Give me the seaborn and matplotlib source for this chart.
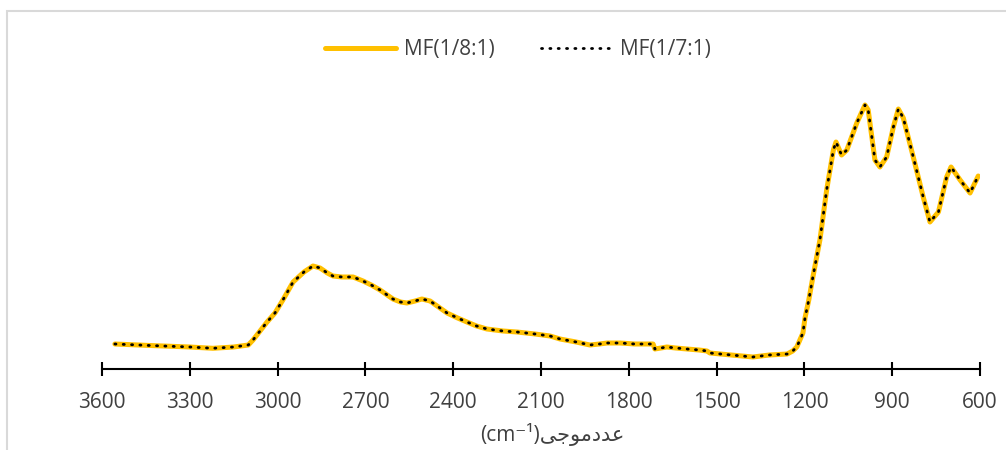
import matplotlib
matplotlib.use("Agg")
import matplotlib.pyplot as plt
from matplotlib.patches import Rectangle
import pandas as pd
import seaborn as sns

# Wavenumber (cm-1) and relative absorbance (arbitrary units) of the FTIR spectra
wavenumber = [
    3556, 3436, 3300, 3221, 3150, 3100, 3084, 3060, 3036, 3009,
    2982, 2947, 2910, 2879, 2855, 2830, 2811, 2780, 2742, 2708,
    2680, 2650, 2606, 2580, 2558, 2530, 2507, 2479, 2450, 2421,
    2385, 2353, 2320, 2285, 2230, 2182, 2120, 2069, 2035, 1980,
    1933, 1900, 1874, 1830, 1780, 1717, 1711, 1690, 1670, 1640,
    1601, 1560, 1533, 1523, 1450, 1376, 1320, 1259, 1240, 1226,
    1205, 1198, 1185, 1171, 1147, 1124, 1101, 1092, 1073, 1055,
    1021, 993, 982, 959, 942, 919, 896, 879, 862, 828,
    794, 771, 742, 714, 699, 668, 634, 606,
]
mf_1_8 = [
    25, 23.5, 22, 20.7, 22, 24, 29, 38, 47, 56,
    69, 87, 97, 103, 101, 96, 93, 92, 92, 88,
    84, 79, 70, 67, 66, 68, 70, 68, 62, 56,
    51, 47, 43, 40, 38, 37, 35, 33, 30, 27,
    24, 25, 26, 26, 25, 25, 20, 21, 22, 21,
    20, 19, 18, 16, 14, 12, 14, 15, 18, 22,
    36, 51, 69, 92, 129, 179, 219, 227, 214, 219,
    246, 264, 259, 209, 202, 212, 242, 260, 251, 212,
    172, 147, 157, 192, 202, 189, 176, 193,
]
# The 1/7:1 sample coincides with the 1/8:1 sample over the whole range
mf_1_7 = list(mf_1_8)

series_names = ["MF(1/8:1)", "MF(1/7:1)"]
x_ticks = [3600, 3300, 3000, 2700, 2400, 2100, 1800, 1500, 1200, 900, 600]

df8 = pd.DataFrame({"wavenumber": wavenumber, "absorbance": mf_1_8})
df7 = pd.DataFrame({"wavenumber": wavenumber, "absorbance": mf_1_7})

sns.set_style("white")
plt.rcParams["font.family"] = ["Open Sans", "DejaVu Sans"]
text_color = "#404040"

fig = plt.figure(figsize=(10.06, 4.5), dpi=100)
ax = fig.add_axes([102 / 1006, 1 - 369 / 450, 878 / 1006, 295 / 450])

sns.lineplot(data=df8, x="wavenumber", y="absorbance", ax=ax, sort=False,
             color="#FFC000", linewidth=3.6, label=series_names[0],
             solid_capstyle="round")
sns.lineplot(data=df7, x="wavenumber", y="absorbance", ax=ax, sort=False,
             color="black", linewidth=2.0, linestyle=(0, (0.4, 2.6)),
             dash_capstyle="round", label=series_names[1])

ax.set_xlim(3600, 600)
ax.set_ylim(0, 295)
ax.set_xticks(x_ticks)
ax.set_xticklabels([str(t) for t in x_ticks])
ax.set_yticks([])
ax.set_xlabel("")
ax.set_ylabel("")
for side in ["left", "top", "right"]:
    ax.spines[side].set_visible(False)
ax.spines["bottom"].set_color("black")
ax.spines["bottom"].set_linewidth(1.5)
ax.tick_params(axis="x", bottom=True, direction="inout", length=9.5, width=1.5,
               color="black", labelsize=15, labelcolor=text_color, pad=12)
ax.set_facecolor("none")

leg = ax.legend(loc="center", bbox_to_anchor=(518 / 1006, 1 - 50 / 450),
                bbox_transform=fig.transFigure, ncol=2, frameon=False,
                fontsize=15, handlelength=3.4, columnspacing=2.2,
                handletextpad=0.4)
for t in leg.get_texts():
    t.set_color(text_color)

# Axis title: "(cm⁻¹)" followed by the Persian word for wavenumber (shaped glyphs)
persian = "\uFEF0\uFE9F\uFEEE\uFEE3\uFEA9\uFEAA\uFECB"
fig.text(552 / 1006, 1 - 434 / 450, "(cm\u207B\u00B9)" + persian,
         ha="center", va="center", fontsize=15, color=text_color,
         family=["Open Sans", "DejaVu Sans"])

# Light chart-area border
fig.patches.append(Rectangle((7 / 1006, -0.2), 1.2, 0.2 + (1 - 11 / 450),
                             transform=fig.transFigure, fill=False,
                             edgecolor="#D9D9D9", linewidth=1.5))

fig.savefig("out.png", dpi=100)
